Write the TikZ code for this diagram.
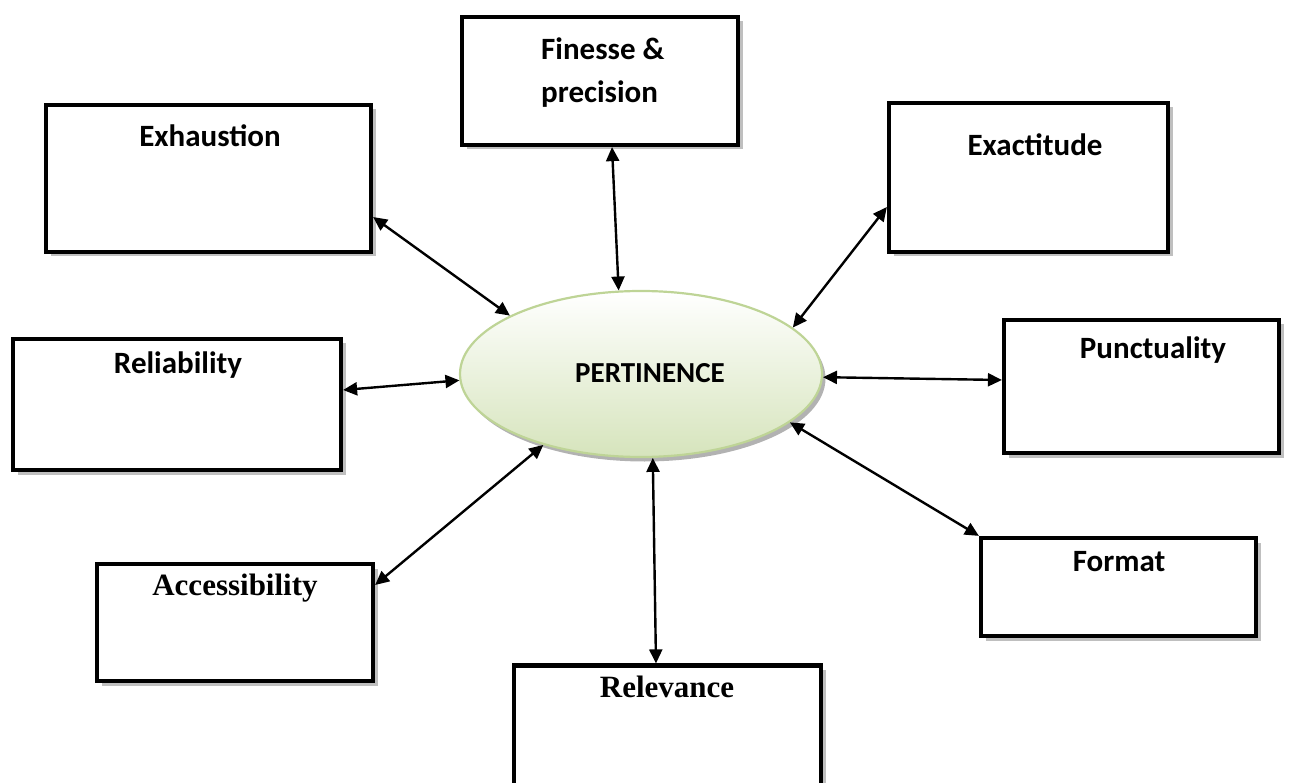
\documentclass[tikz,border=0pt]{standalone}
\usepackage{fontspec}
\newfontfamily\calibfont{Carlito}
\newfontfamily\timesfont{Liberation Serif}
\usetikzlibrary{shapes.geometric,shadows,arrows.meta}
\definecolor{ellborder}{RGB}{190,212,150}
\definecolor{ellfill}{RGB}{214,228,188}

\begin{document}
\begin{tikzpicture}[x=1pt,y=-1pt,
  box/.style={draw=black,line width=4.2pt,fill=white,inner sep=0pt,
    drop shadow={shadow xshift=4.5pt,shadow yshift=-4.5pt,fill=black!25,opacity=1}},
  lbl/.style={anchor=base,inner sep=0pt,font=\calibfont\bfseries\fontsize{31}{36}\selectfont},
  lblt/.style={anchor=base,inner sep=0pt,font=\timesfont\bfseries\fontsize{31}{36}\selectfont},
  link/.style={line width=2.4pt,{Triangle[length=14pt,width=13pt]}-{Triangle[length=14pt,width=13pt]}}
]
\useasboundingbox (0,0) rectangle (1295,783);
\clip (0,0) rectangle (1295,783);

% surrounding boxes
\node[box,minimum width=325pt,minimum height=147pt] (exh) at (208.5,178.5) {};
\node[box,minimum width=276pt,minimum height=128pt] (fin) at (600,81) {};
\node[box,minimum width=279pt,minimum height=149pt] (exa) at (1028.5,177.5) {};
\node[box,minimum width=328pt,minimum height=131pt] (rel) at (177,404.5) {};
\node[box,minimum width=275pt,minimum height=133pt] (pun) at (1141.5,386.5) {};
\node[box,minimum width=275pt,minimum height=98pt] (fmt) at (1118.5,587) {};
\node[box,minimum width=276pt,minimum height=117pt] (acc) at (235,622.5) {};
\node[box,minimum width=307pt,minimum height=153pt] (rev) at (667.5,742) {};

% central ellipse
\node[ellipse,draw=ellborder,line width=2.2pt,top color=white,bottom color=ellfill,
  minimum width=362pt,minimum height=166pt,inner sep=0pt,
  drop shadow={shadow xshift=3.5pt,shadow yshift=-4.5pt,fill=black!30,opacity=1}] (ell) at (641,374) {};

% labels
\node[lbl] (exhT) at (210,147) {Exhaustion};
\node[lbl,anchor=base west] (finT1) at (541,60) {Finesse \&};
\node[lbl,anchor=base west] (finT2) at (541,103) {precision};
\node[lbl] (exaT) at (1035,156) {Exactitude};
\node[lbl] (relT) at (178,373) {Reliability};
\node[lbl] (punT) at (1153,358) {Punctuality};
\node[lbl,font=\calibfont\bfseries\fontsize{29}{34}\selectfont] (perT) at (650,382) {PERTINENCE};
\node[lblt] (accT) at (235,595) {Accessibility};
\node[lblt] (revT) at (667,697) {Relevance};
\node[lbl] (fmtT) at (1119,571) {Format};

% two-way connectors
\draw[link] ([yshift=-38.5pt]exh.east) -- (ell.156.5);
\draw[link] ([xshift=12pt]fin.south) -- (ell.105.3);
\draw[link] ([yshift=-29.5pt]exa.west) -- (ell.17);
\draw[link] ([yshift=14.5pt]rel.east) -- (ell.182);
\draw[link] ([yshift=6.5pt]pun.west) -- (ell.-1);
\draw[link] (fmt.north west) -- (ell.-18);
\draw[link] ([xshift=-11.5pt]rev.north) -- (ell.-82);
\draw[link] ([yshift=37.5pt]acc.east) -- (ell.216);
\end{tikzpicture}
\end{document}
